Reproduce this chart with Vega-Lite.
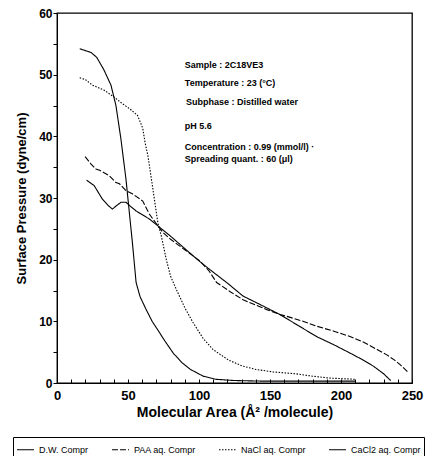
{
  "$schema": "https://vega.github.io/schema/vega-lite/v6.json",
  "width": 355,
  "height": 370,
  "autosize": {"type": "none"},
  "padding": {"left": 57, "top": 13, "right": 21, "bottom": 73},
  "background": "white",
  "config": {
    "font": "Liberation Sans",
    "view": {"stroke": "black", "strokeWidth": 1.3},
    "axis": {
      "grid": false,
      "domainColor": "black",
      "tickColor": "black",
      "labelColor": "black",
      "titleColor": "black",
      "labelFont": "Liberation Sans",
      "titleFont": "Liberation Sans",
      "labelFontWeight": "bold",
      "titleFontWeight": "bold",
      "labelFontSize": 12,
      "titleFontSize": 14,
      "labelOverlap": false,
      "labelFlush": false
    }
  },
  "encoding": {
    "x": {
      "field": "x",
      "type": "quantitative",
      "scale": {"domain": [0, 250], "nice": false},
      "axis": {
        "title": "Molecular Area (Å² /molecule)",
        "values": [0,10,20,30,40,50,60,70,80,90,100,110,120,130,140,150,160,170,180,190,200,210,220,230,240,250],
        "labelExpr": "datum.value % 50 === 0 ? datum.label : ''",
        "labelOverlap": false,
        "labelFlush": false,
        "labelBound": false,
        "tickSize": -4,
        "labelPadding": 10,
        "titlePadding": 3,
        "labelFontSize": 13
      }
    },
    "y": {
      "field": "y",
      "type": "quantitative",
      "scale": {"domain": [0, 60], "nice": false},
      "axis": {
        "title": "Surface Pressure (dyne/cm)",
        "values": [0,5,10,15,20,25,30,35,40,45,50,55,60],
        "labelExpr": "datum.value % 10 === 0 ? datum.label : ''",
        "labelOverlap": false,
        "tickSize": 4,
        "labelPadding": 1,
        "titlePadding": 10,
        "titleFontSize": 13
      }
    }
  },
  "layer": [
    {
      "data": {
        "values": [
          {"s": "D.W. Compr", "x": 16, "y": 54.2},
          {"s": "D.W. Compr", "x": 20, "y": 53.9},
          {"s": "D.W. Compr", "x": 24, "y": 53.6},
          {"s": "D.W. Compr", "x": 28, "y": 52.8},
          {"s": "D.W. Compr", "x": 33, "y": 50.8},
          {"s": "D.W. Compr", "x": 38, "y": 48.3},
          {"s": "D.W. Compr", "x": 41.5, "y": 45},
          {"s": "D.W. Compr", "x": 45, "y": 39.6},
          {"s": "D.W. Compr", "x": 48.6, "y": 33},
          {"s": "D.W. Compr", "x": 51, "y": 27.5},
          {"s": "D.W. Compr", "x": 53, "y": 23},
          {"s": "D.W. Compr", "x": 55.7, "y": 16.3},
          {"s": "D.W. Compr", "x": 58.5, "y": 14},
          {"s": "D.W. Compr", "x": 62.8, "y": 11.9},
          {"s": "D.W. Compr", "x": 67, "y": 10},
          {"s": "D.W. Compr", "x": 71, "y": 8.6},
          {"s": "D.W. Compr", "x": 76, "y": 6.8},
          {"s": "D.W. Compr", "x": 82, "y": 4.8},
          {"s": "D.W. Compr", "x": 88, "y": 3.3},
          {"s": "D.W. Compr", "x": 94, "y": 2.2},
          {"s": "D.W. Compr", "x": 103, "y": 1.1},
          {"s": "D.W. Compr", "x": 112, "y": 0.6},
          {"s": "D.W. Compr", "x": 125, "y": 0.4},
          {"s": "D.W. Compr", "x": 145, "y": 0.3},
          {"s": "D.W. Compr", "x": 175, "y": 0.3},
          {"s": "D.W. Compr", "x": 210, "y": 0.3},

          {"s": "PAA aq. Compr", "x": 19.8, "y": 36.7},
          {"s": "PAA aq. Compr", "x": 24, "y": 35.5},
          {"s": "PAA aq. Compr", "x": 27.4, "y": 34.7},
          {"s": "PAA aq. Compr", "x": 30, "y": 34.5},
          {"s": "PAA aq. Compr", "x": 36.8, "y": 33.6},
          {"s": "PAA aq. Compr", "x": 41.5, "y": 32.5},
          {"s": "PAA aq. Compr", "x": 44, "y": 32.3},
          {"s": "PAA aq. Compr", "x": 48.6, "y": 31.2},
          {"s": "PAA aq. Compr", "x": 53, "y": 30.7},
          {"s": "PAA aq. Compr", "x": 60.4, "y": 29.5},
          {"s": "PAA aq. Compr", "x": 65, "y": 27.4},
          {"s": "PAA aq. Compr", "x": 67.5, "y": 26.6},
          {"s": "PAA aq. Compr", "x": 71, "y": 25.5},
          {"s": "PAA aq. Compr", "x": 74.6, "y": 24.4},
          {"s": "PAA aq. Compr", "x": 80, "y": 23.3},
          {"s": "PAA aq. Compr", "x": 90, "y": 21.6},
          {"s": "PAA aq. Compr", "x": 100.6, "y": 19.8},
          {"s": "PAA aq. Compr", "x": 107, "y": 18.2},
          {"s": "PAA aq. Compr", "x": 112.4, "y": 16.3},
          {"s": "PAA aq. Compr", "x": 122, "y": 14.8},
          {"s": "PAA aq. Compr", "x": 131, "y": 13.5},
          {"s": "PAA aq. Compr", "x": 147.8, "y": 11.9},
          {"s": "PAA aq. Compr", "x": 157, "y": 11.1},
          {"s": "PAA aq. Compr", "x": 162, "y": 10.8},
          {"s": "PAA aq. Compr", "x": 172, "y": 10.1},
          {"s": "PAA aq. Compr", "x": 183, "y": 9.2},
          {"s": "PAA aq. Compr", "x": 195, "y": 8.4},
          {"s": "PAA aq. Compr", "x": 206.8, "y": 7.5},
          {"s": "PAA aq. Compr", "x": 216, "y": 6.6},
          {"s": "PAA aq. Compr", "x": 225.7, "y": 5.4},
          {"s": "PAA aq. Compr", "x": 232, "y": 4.6},
          {"s": "PAA aq. Compr", "x": 237.5, "y": 3.75},
          {"s": "PAA aq. Compr", "x": 242, "y": 2.9},
          {"s": "PAA aq. Compr", "x": 247, "y": 1.8},

          {"s": "NaCl aq. Compr", "x": 16, "y": 49.5},
          {"s": "NaCl aq. Compr", "x": 20, "y": 49.2},
          {"s": "NaCl aq. Compr", "x": 25, "y": 48.3},
          {"s": "NaCl aq. Compr", "x": 33, "y": 47.5},
          {"s": "NaCl aq. Compr", "x": 40, "y": 46.4},
          {"s": "NaCl aq. Compr", "x": 46, "y": 45.3},
          {"s": "NaCl aq. Compr", "x": 51, "y": 44.5},
          {"s": "NaCl aq. Compr", "x": 56.7, "y": 43.4},
          {"s": "NaCl aq. Compr", "x": 60.4, "y": 41.3},
          {"s": "NaCl aq. Compr", "x": 62, "y": 39},
          {"s": "NaCl aq. Compr", "x": 64, "y": 36.9},
          {"s": "NaCl aq. Compr", "x": 67.5, "y": 31.5},
          {"s": "NaCl aq. Compr", "x": 71, "y": 26},
          {"s": "NaCl aq. Compr", "x": 73.4, "y": 23.9},
          {"s": "NaCl aq. Compr", "x": 77, "y": 20},
          {"s": "NaCl aq. Compr", "x": 80, "y": 17.3},
          {"s": "NaCl aq. Compr", "x": 84, "y": 15.2},
          {"s": "NaCl aq. Compr", "x": 90, "y": 12.2},
          {"s": "NaCl aq. Compr", "x": 95.8, "y": 9.8},
          {"s": "NaCl aq. Compr", "x": 103, "y": 7.2},
          {"s": "NaCl aq. Compr", "x": 110, "y": 5.4},
          {"s": "NaCl aq. Compr", "x": 121, "y": 3.7},
          {"s": "NaCl aq. Compr", "x": 130, "y": 2.8},
          {"s": "NaCl aq. Compr", "x": 140, "y": 2.2},
          {"s": "NaCl aq. Compr", "x": 152, "y": 1.8},
          {"s": "NaCl aq. Compr", "x": 168, "y": 1.5},
          {"s": "NaCl aq. Compr", "x": 180, "y": 1.1},
          {"s": "NaCl aq. Compr", "x": 192, "y": 0.8},
          {"s": "NaCl aq. Compr", "x": 210, "y": 0.6},

          {"s": "CaCl2 aq. Compr", "x": 20.8, "y": 32.9},
          {"s": "CaCl2 aq. Compr", "x": 26.2, "y": 32},
          {"s": "CaCl2 aq. Compr", "x": 32, "y": 29.8},
          {"s": "CaCl2 aq. Compr", "x": 36, "y": 28.8},
          {"s": "CaCl2 aq. Compr", "x": 39, "y": 28.2},
          {"s": "CaCl2 aq. Compr", "x": 41.6, "y": 28.7},
          {"s": "CaCl2 aq. Compr", "x": 45, "y": 29.3},
          {"s": "CaCl2 aq. Compr", "x": 48.6, "y": 29.3},
          {"s": "CaCl2 aq. Compr", "x": 52, "y": 28.6},
          {"s": "CaCl2 aq. Compr", "x": 55.7, "y": 27.9},
          {"s": "CaCl2 aq. Compr", "x": 65, "y": 26.6},
          {"s": "CaCl2 aq. Compr", "x": 72, "y": 25.3},
          {"s": "CaCl2 aq. Compr", "x": 80, "y": 23.8},
          {"s": "CaCl2 aq. Compr", "x": 90, "y": 21.8},
          {"s": "CaCl2 aq. Compr", "x": 100, "y": 19.8},
          {"s": "CaCl2 aq. Compr", "x": 107.6, "y": 18.4},
          {"s": "CaCl2 aq. Compr", "x": 120, "y": 16.2},
          {"s": "CaCl2 aq. Compr", "x": 131, "y": 14.1},
          {"s": "CaCl2 aq. Compr", "x": 145, "y": 12.5},
          {"s": "CaCl2 aq. Compr", "x": 157, "y": 11.1},
          {"s": "CaCl2 aq. Compr", "x": 170, "y": 9.3},
          {"s": "CaCl2 aq. Compr", "x": 183, "y": 7.5},
          {"s": "CaCl2 aq. Compr", "x": 195, "y": 6.2},
          {"s": "CaCl2 aq. Compr", "x": 206.8, "y": 4.8},
          {"s": "CaCl2 aq. Compr", "x": 215, "y": 3.8},
          {"s": "CaCl2 aq. Compr", "x": 223, "y": 2.7},
          {"s": "CaCl2 aq. Compr", "x": 230, "y": 1.5},
          {"s": "CaCl2 aq. Compr", "x": 235, "y": 0.4}
        ]
      },
      "mark": {"type": "line", "color": "black"},
      "encoding": {
        "strokeDash": {
          "field": "s",
          "type": "nominal",
          "scale": {
            "domain": ["D.W. Compr", "PAA aq. Compr", "NaCl aq. Compr", "CaCl2 aq. Compr"],
            "range": [[1, 0], [6, 2], [1.5, 1.5], [1, 0]]
          },
          "legend": {
            "title": null,
            "orient": "none",
            "legendX": -44,
            "legendY": 424,
            "direction": "horizontal",
            "columns": 4,
            "columnPadding": 20,
            "symbolType": "stroke",
            "symbolSize": 289,
            "symbolStrokeColor": "black",
            "symbolStrokeWidth": 1.2,
            "labelFont": "Liberation Sans",
            "labelFontSize": 9,
            "labelColor": "black",
            "labelOffset": 4,
            "strokeColor": "black",
            "padding": 3
          }
        },
        "strokeWidth": {
          "field": "s",
          "type": "nominal",
          "scale": {
            "domain": ["D.W. Compr", "PAA aq. Compr", "NaCl aq. Compr", "CaCl2 aq. Compr"],
            "range": [1.1, 1.1, 1.1, 1.7]
          },
          "legend": null
        }
      }
    },
    {
      "data": {
        "values": [
          {"x": 90, "y": 51.6, "t": "Sample : 2C18VE3"},
          {"x": 90, "y": 48.7, "t": "Temperature : 23 (°C)"},
          {"x": 90.8, "y": 45.5, "t": "Subphase : Distilled water"},
          {"x": 90, "y": 41.7, "t": "pH 5.6"},
          {"x": 90, "y": 38.3, "t": "Concentration : 0.99 (mmol/l) ·"},
          {"x": 90, "y": 36.4, "t": "Spreading quant. : 60 (μl)"}
        ]
      },
      "mark": {"type": "text", "align": "left", "baseline": "middle", "fontSize": 9, "fontWeight": 600, "font": "Liberation Sans", "color": "black"},
      "encoding": {
        "text": {"field": "t"}
      }
    }
  ]
}
